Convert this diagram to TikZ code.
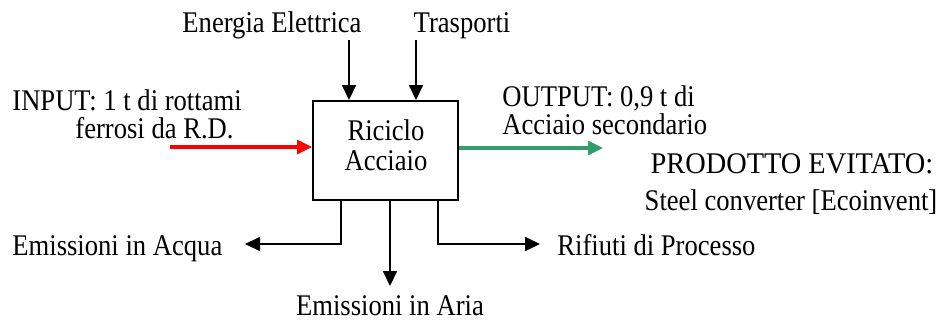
\documentclass[tikz,border=0pt]{standalone}
\usepackage{fontspec}
\setmainfont{Liberation Serif}
\newfontfamily\tallfont[FakeStretch=0.887]{Liberation Serif}
\newfontfamily\widecapsfont[FakeStretch=0.945]{Liberation Serif}
\usetikzlibrary{arrows.meta}
\definecolor{outgreen}{RGB}{52,156,102}
\begin{document}
\begin{tikzpicture}[x=0.5pt,y=-0.5pt,
  every node/.style={font=\tallfont\fontsize{15}{18}\selectfont, inner sep=0pt},
  lbl/.style={anchor=base},
  flow/.style={line width=1pt, -{Triangle[length=7.5pt,width=7pt]}},
  inflow/.style={line width=1.6pt, red, -{Triangle[length=7.5pt,width=7pt]}},
  outflow/.style={line width=1.6pt, outgreen, -{Triangle[length=7.5pt,width=7pt]}},
  procbox/.style={draw, line width=1pt, minimum width=72.5pt, minimum height=49.5pt}
]
\useasboundingbox (0,0) rectangle (939,323);
% process box
\node[procbox] (box) at (385.5,150.5) {};
\node[lbl] (t1) at (386,140) {Riciclo};
\node[lbl] (t2) at (386,170) {Acciaio};
% top inputs
\node[lbl] (ee) at (272,32) {Energia Elettrica};
\node[lbl] (tr) at (462,32) {Trasporti};
\coordinate (eeS) at (349,40);
\coordinate (trS) at (416,40);
\draw[flow] (eeS) -- (eeS |- box.north);
\draw[flow] (trS) -- (trS |- box.north);
% input
\node[lbl, anchor=base west] (in1) at (12,110) {INPUT: 1 t di rottami};
\node[lbl, anchor=base west] (in2) at (75,138) {ferrosi da R.D.};
\coordinate (inS) at (170,147);
\draw[inflow] (inS) -- (inS -| box.west);
% output
\node[lbl, anchor=base west] (out1) at (502,106) {OUTPUT: 0,9 t di};
\node[lbl, anchor=base west] (out2) at (502,134) {Acciaio secondario};
\coordinate (outE) at (603,148);
\draw[outflow] (outE -| box.east) -- (outE);
% avoided product
\node[lbl, font=\widecapsfont\fontsize{15}{18}\selectfont] (pe1) at (792,173) {PRODOTTO EVITATO:};
\node[lbl] (pe2) at (791,210) {Steel converter [Ecoinvent]};
% bottom outputs
\node[lbl, anchor=base west] (acq) at (12,255) {Emissioni in Acqua};
\node[lbl, anchor=base west] (rif) at (557,255) {Rifiuti di Processo};
\node[lbl] (aria) at (390,315) {Emissioni in Aria};
\coordinate (acqE) at (245,244);
\coordinate (rifE) at (540,244);
\coordinate (ariaE) at (390,286);
\draw[flow] (341,200) |- (acqE);
\draw[flow] (438,200) |- (rifE);
\draw[flow] (ariaE |- box.south) -- (ariaE);
\end{tikzpicture}
\end{document}
